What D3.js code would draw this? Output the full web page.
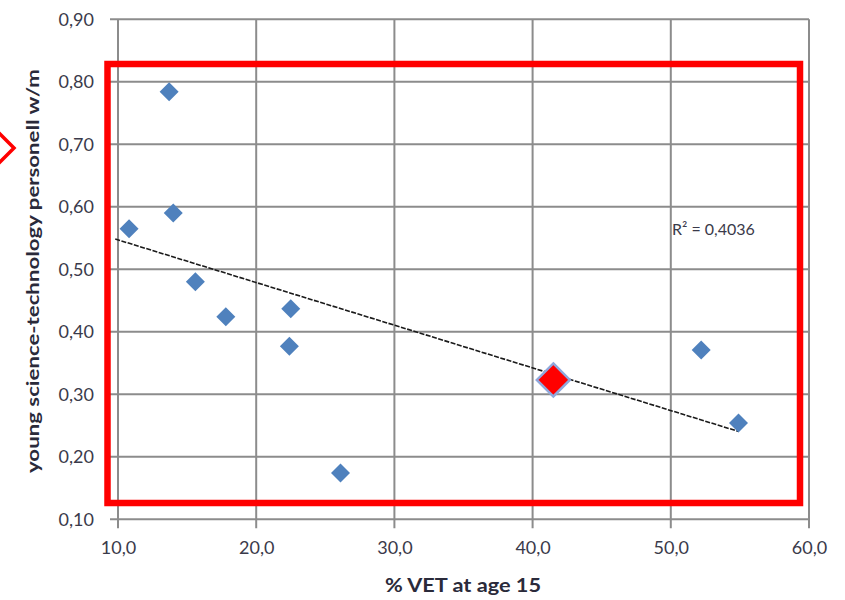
<!DOCTYPE html>
<html>
<head>
<meta charset="utf-8">
<script src="https://cdn.jsdelivr.net/npm/d3@7"></script>
<style>
  html, body { margin: 0; padding: 0; background: #fff; }
  svg { display: block; }
  text { font-family: Lato, "Open Sans", sans-serif; }
</style>
</head>
<body>
<svg id="chart" width="845" height="600"></svg>
<script>
// Share of students in vocational education at age 15 (%) per country
const vetShare = [13.7, 14.0, 10.8, 15.6, 17.8, 22.5, 22.4, 26.1, 41.5, 52.2, 54.9];
// Young science-technology personnel, women per man
const personnelRatio = [0.784, 0.590, 0.565, 0.480, 0.424, 0.437, 0.377, 0.174, 0.323, 0.371, 0.254];
// Index of the highlighted country
const highlightIndex = 8;

const xTicks = [10, 20, 30, 40, 50, 60];
const yTicks = [0.1, 0.2, 0.3, 0.4, 0.5, 0.6, 0.7, 0.8, 0.9];
const rSquaredLabel = "R\u00b2 = 0,4036";
const xTitle = "% VET at age 15";
const yTitle = "young science-technology personell w/m";

const svg = d3.select("#chart");
const comma = fmt => v => d3.format(fmt)(v).replace(".", ",");

const x = d3.scaleLinear().domain([10, 60]).range([118, 809]);
const y = d3.scaleLinear().domain([0.1, 0.9]).range([519.3, 19.3]);

const gridColor = "#8c8c8c";

// Grid lines (extend past the axes as tick marks)
const grid = svg.append("g");
grid.selectAll("line.v").data(xTicks).join("line")
  .attr("x1", d => x(d)).attr("x2", d => x(d))
  .attr("y1", y(0.9)).attr("y2", y(0.1) + 9)
  .attr("stroke", gridColor).attr("stroke-width", 2);
grid.selectAll("line.h").data(yTicks).join("line")
  .attr("x1", x(10) - 8).attr("x2", x(60))
  .attr("y1", d => y(d)).attr("y2", d => y(d))
  .attr("stroke", gridColor).attr("stroke-width", 2);

// Tick labels
const xAxis = svg.append("g")
  .attr("transform", `translate(0,${y(0.1)})`)
  .call(d3.axisBottom(x).tickValues(xTicks).tickFormat(comma(".1f")).tickSize(0).tickPadding(22));
const yAxis = svg.append("g")
  .attr("transform", `translate(${x(10)},0)`)
  .call(d3.axisLeft(y).tickValues(yTicks).tickFormat(comma(".2f")).tickSize(0).tickPadding(24));
[xAxis, yAxis].forEach(a => {
  a.select(".domain").remove();
  a.selectAll("text").attr("fill", "#3a3a4a").attr("font-size", 18)
    .style("font-family", "Lato, sans-serif");
});

// Linear trend line (least squares), extended one unit backward
const mx = d3.mean(vetShare), my = d3.mean(personnelRatio);
let sxy = 0, sxx = 0;
vetShare.forEach((v, i) => { sxy += (v - mx) * (personnelRatio[i] - my); sxx += (v - mx) ** 2; });
const slope = sxy / sxx, intercept = my - slope * mx;
const xStart = d3.min(vetShare) - 1, xEnd = d3.max(vetShare);
svg.append("line")
  .attr("x1", x(xStart)).attr("y1", y(intercept + slope * xStart))
  .attr("x2", x(xEnd)).attr("y2", y(intercept + slope * xEnd))
  .attr("stroke", "#1a1a1a").attr("stroke-width", 1.6)
  .attr("stroke-dasharray", "5,1.5");

// Markers
const diamond = r => `M0,${-r}L${r},0L0,${r}L${-r},0Z`;
const points = vetShare.map((v, i) => ({ v, p: personnelRatio[i], i }));
svg.append("g").selectAll("path").data(points.filter(d => d.i !== highlightIndex)).join("path")
  .attr("transform", d => `translate(${x(d.v)},${y(d.p)})`)
  .attr("d", diamond(9.5))
  .attr("fill", "#4f81bd");
const hp = points[highlightIndex];
svg.append("path")
  .attr("transform", `translate(${x(hp.v)},${y(hp.p)})`)
  .attr("d", diamond(16.5))
  .attr("fill", "#ff0000").attr("stroke", "#8fa8dc").attr("stroke-width", 2.5);

// R² label
svg.append("text").attr("x", 672).attr("y", 235)
  .attr("font-size", 16).attr("fill", "#3a3a4a").text(rSquaredLabel);

// Axis titles
svg.append("text")
  .attr("x", 463).attr("y", 592).attr("text-anchor", "middle")
  .attr("font-size", 18).attr("font-weight", "bold").attr("fill", "#2a2a3a")
  .attr("textLength", 156).attr("lengthAdjust", "spacingAndGlyphs")
  .text(xTitle);
svg.append("text")
  .attr("transform", "translate(39,271) rotate(-90)")
  .attr("text-anchor", "middle")
  .attr("font-size", 16.5).attr("font-weight", "bold").attr("fill", "#2a2a3a")
  .attr("textLength", 404).attr("lengthAdjust", "spacingAndGlyphs")
  .text(yTitle);

// Red emphasis frame and marker
svg.append("rect")
  .attr("x", 107.5).attr("y", 64).attr("width", 692.5).attr("height", 439)
  .attr("fill", "none").attr("stroke", "#ff0000").attr("stroke-width", 6.5);
svg.append("path")
  .attr("transform", "translate(-2,148)")
  .attr("d", diamond(16))
  .attr("fill", "none").attr("stroke", "#ff0000").attr("stroke-width", 3.5);
</script>
</body>
</html>
